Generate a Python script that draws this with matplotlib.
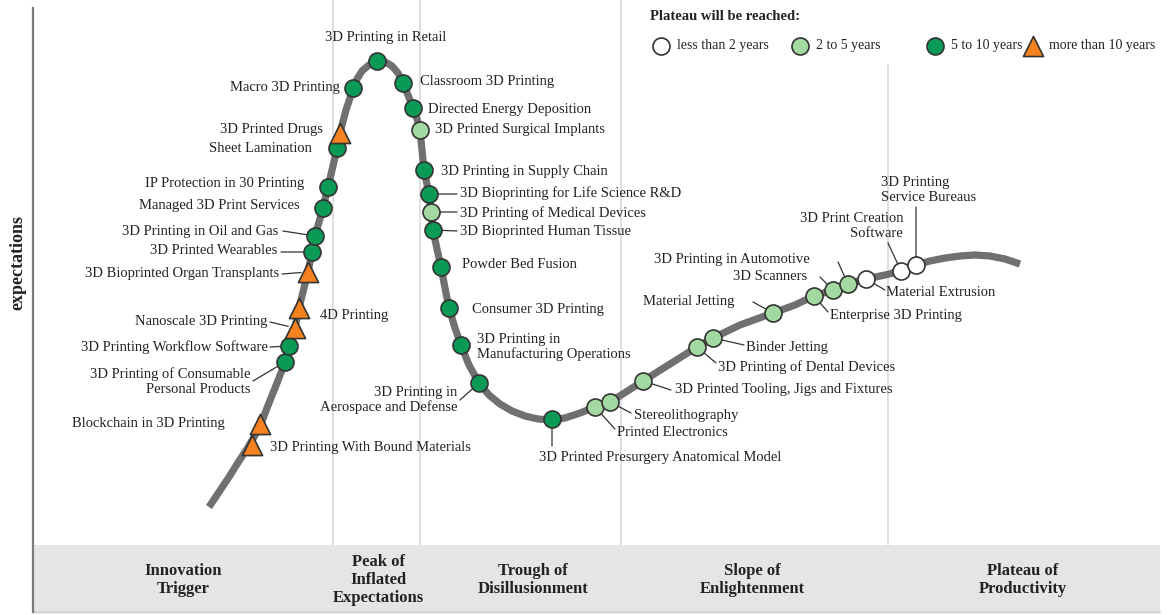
import matplotlib.pyplot as plt
from matplotlib.patches import Rectangle

plt.rcParams['font.family'] = ['Liberation Serif', 'DejaVu Serif']

# hype curve (x = time, y = expectations, pixel-like units, y down)
curve_x = [209, 219, 229, 239, 247, 254, 261, 267, 273, 279, 285, 289, 295, 299, 304, 308,
           312, 315, 319, 323, 328, 333, 337, 340, 346, 350, 353, 357, 362, 369, 377, 385,
           392, 398, 403, 408, 413, 417, 420, 422, 424, 429, 431, 433, 437, 441, 445, 449,
           455, 461, 469, 479, 489, 500, 512, 525, 538, 552, 565, 580, 595, 610, 626, 643,
           670, 697, 713, 740, 773, 795, 814, 833, 848, 866, 885, 901, 916, 930, 945, 960,
           975, 990, 1005, 1020]
curve_y = [507, 492, 477, 461, 449, 437, 424, 408, 393, 378, 362, 346, 328, 308, 288, 272,
           252, 236, 222, 208, 187, 166, 148, 133, 110, 98, 88, 79, 71, 65, 61, 62,
           66, 73, 83, 95, 108, 119, 130, 150, 170, 194, 212, 230, 249, 267, 288, 308,
           328, 345, 365, 383, 395, 404, 411, 416, 419, 420, 418, 413, 407, 402, 392, 381,
           364, 347, 338, 325, 313, 305, 296, 290, 284, 279, 275, 271, 265, 261, 258, 256,
           255, 256, 259, 264]

techs = ['3D Printing With Bound Materials', 'Blockchain in 3D Printing',
         '3D Printing of Consumable\nPersonal Products', '3D Printing Workflow Software',
         'Nanoscale 3D Printing', '4D Printing', '3D Bioprinted Organ Transplants',
         '3D Printed Wearables', '3D Printing in Oil and Gas', 'Managed 3D Print Services',
         'IP Protection in 30 Printing', 'Sheet Lamination', '3D Printed Drugs',
         'Macro 3D Printing', '3D Printing in Retail', 'Classroom 3D Printing',
         'Directed Energy Deposition', '3D Printed Surgical Implants',
         '3D Printing in Supply Chain', '3D Bioprinting for Life Science R&D',
         '3D Printing of Medical Devices', '3D Bioprinted Human Tissue', 'Powder Bed Fusion',
         'Consumer 3D Printing', '3D Printing in\nManufacturing Operations',
         '3D Printing in\nAerospace and Defense', '3D Printed Presurgery Anatomical Model',
         'Printed Electronics', 'Stereolithography', '3D Printed Tooling, Jigs and Fixtures',
         '3D Printing of Dental Devices', 'Binder Jetting', 'Material Jetting',
         'Enterprise 3D Printing', '3D Scanners', '3D Printing in Automotive',
         'Material Extrusion', '3D Print Creation\nSoftware', '3D Printing\nService Bureaus']
tech_x = [252, 260, 285, 289, 295, 299, 308, 312, 315, 323, 328, 337, 340, 353, 377, 403,
          413, 420, 424, 429, 431, 433, 441, 449, 461, 479, 552, 595, 610, 643, 697, 713,
          773, 814, 833, 848, 866, 901, 916]
tech_y = [445, 424, 362, 346, 328, 308, 272, 252, 236, 208, 187, 148, 133, 88, 61, 83,
          108, 130, 170, 194, 212, 230, 267, 308, 345, 383, 419, 407, 402, 381, 347, 338,
          313, 296, 290, 284, 279, 271, 265]
# plateau: 0 = <2 yrs, 1 = 2-5 yrs, 2 = 5-10 yrs, 3 = >10 yrs
plateau = [3, 3, 2, 2, 3, 3, 3, 2, 2, 2, 2, 2, 3, 2, 2, 2,
           2, 1, 2, 2, 1, 2, 2, 2, 2, 2, 2, 1, 1, 1, 1, 1,
           1, 1, 1, 1, 0, 0, 0]

legend_labels = ['less than 2 years', '2 to 5 years', '5 to 10 years', 'more than 10 years']
phases = ['Innovation\nTrigger', 'Peak of\nInflated\nExpectations', 'Trough of\nDisillusionment',
          'Slope of\nEnlightenment', 'Plateau of\nProductivity']

# styles
face = ['white', '#a2d9a0', '#0b9a55', '#f5821f']
shape = ['o', 'o', 'o', '^']
msize = [150, 150, 150, 210]

# label layout: (x, y, ha, leader start or None)
layout = [
    (270, 447, 'left', None), (225, 424, 'right', None), (250, 382, 'right', (253, 381)),
    (268, 347, 'right', (270, 347)), (267, 321, 'right', (270, 322)), (320, 315, 'left', None),
    (279, 274, 'right', (282, 274)), (277, 251, 'right', (281, 252)), (278, 231, 'right', (283, 231)),
    (300, 205, 'right', None), (304, 184, 'right', None), (312, 148, 'right', None),
    (323, 130, 'right', None), (340, 87, 'right', None), (386, 38, 'center', None),
    (420, 82, 'left', None), (428, 109, 'left', None), (435, 130, 'left', None),
    (441, 171, 'left', None), (460, 193, 'left', (457, 194)), (460, 213, 'left', (457, 212)),
    (460, 232, 'left', (457, 231)), (462, 265, 'left', None), (472, 310, 'left', None),
    (477, 347, 'left', None), (457, 400, 'right', (460, 400)), (539, 458, 'left', (552, 446)),
    (617, 432, 'left', (615, 429)), (634, 415, 'left', (631, 413)), (675, 389, 'left', (671, 390)),
    (718, 367, 'left', (716, 363)), (746, 347, 'left', (744, 345)), (734, 302, 'right', (753, 302)),
    (830, 315, 'left', (828, 312)), (807, 276, 'right', (820, 277)), (810, 259, 'right', (838, 262)),
    (886, 292, 'left', (885, 290)), (903, 226, 'right', (888, 243)), (881, 190, 'left', (916, 207)),
]

fig = plt.figure(figsize=(11.69, 6.15), dpi=100)
ax = fig.add_axes([0, 0, 1, 1])
ax.set_xlim(0, 1169)
ax.set_ylim(615, 0)
ax.axis('off')

# phase dividers and bottom band
for xd, y0 in [(333, 0), (420, 0), (621, 0), (888, 65)]:
    ax.plot([xd, xd], [y0, 545], color='#dcdcdc', lw=1.3, zorder=0)
ax.add_patch(Rectangle((33, 545), 1127, 67, facecolor='#e5e5e5', edgecolor='none', zorder=0))
ax.plot([33, 1160], [612, 612], color='#c8c8c8', lw=1, zorder=1)
ax.plot([33, 33], [8, 612], color='#7a7a7a', lw=1.6, zorder=2)

phase_x = [183, 378, 533, 752, 1023]
for px, ph in zip(phase_x, phases):
    ax.text(px, 580, ph, ha='center', va='center', fontsize=12, fontweight='bold',
            linespacing=1.2, color='#222222')

ax.text(18, 262, 'expectations', rotation=90, ha='center', va='center', fontsize=13,
        fontweight='bold', color='#222222')

# curve
ax.plot(curve_x, curve_y, color='#707070', lw=5.2, solid_capstyle='butt',
        solid_joinstyle='round', zorder=3)

# leaders + labels
for i, name in enumerate(techs):
    lx, ly, ha, lead = layout[i]
    if lead is not None:
        ax.annotate('', xy=(tech_x[i], tech_y[i]), xytext=lead,
                    arrowprops=dict(arrowstyle='-', color='#333333', lw=0.9,
                                    shrinkA=0, shrinkB=5), zorder=4)
    ax.text(lx, ly, name, ha=ha, va='center', fontsize=10.5, color='#222222',
            multialignment=ha if ha != 'center' else 'center', linespacing=1.2)

# markers
for c in range(4):
    xs = [x for x, p in zip(tech_x, plateau) if p == c]
    ys = [y for y, p in zip(tech_y, plateau) if p == c]
    ax.scatter(xs, ys, s=msize[c], marker=shape[c], facecolor=face[c],
               edgecolor='#333333', linewidth=1.2, zorder=5)

# legend
ax.text(650, 16, 'Plateau will be reached:', ha='left', va='center', fontsize=10.5,
        fontweight='bold', color='#222222')
leg_mx = [661, 800, 935, 1033]
for c in range(4):
    ax.scatter([leg_mx[c]], [46], s=msize[c], marker=shape[c], facecolor=face[c],
               edgecolor='#333333', linewidth=1.2, zorder=5)
    ax.text(leg_mx[c] + 16, 46, legend_labels[c], ha='left', va='center', fontsize=10,
            color='#222222')

fig.savefig('out.png', dpi=100)
